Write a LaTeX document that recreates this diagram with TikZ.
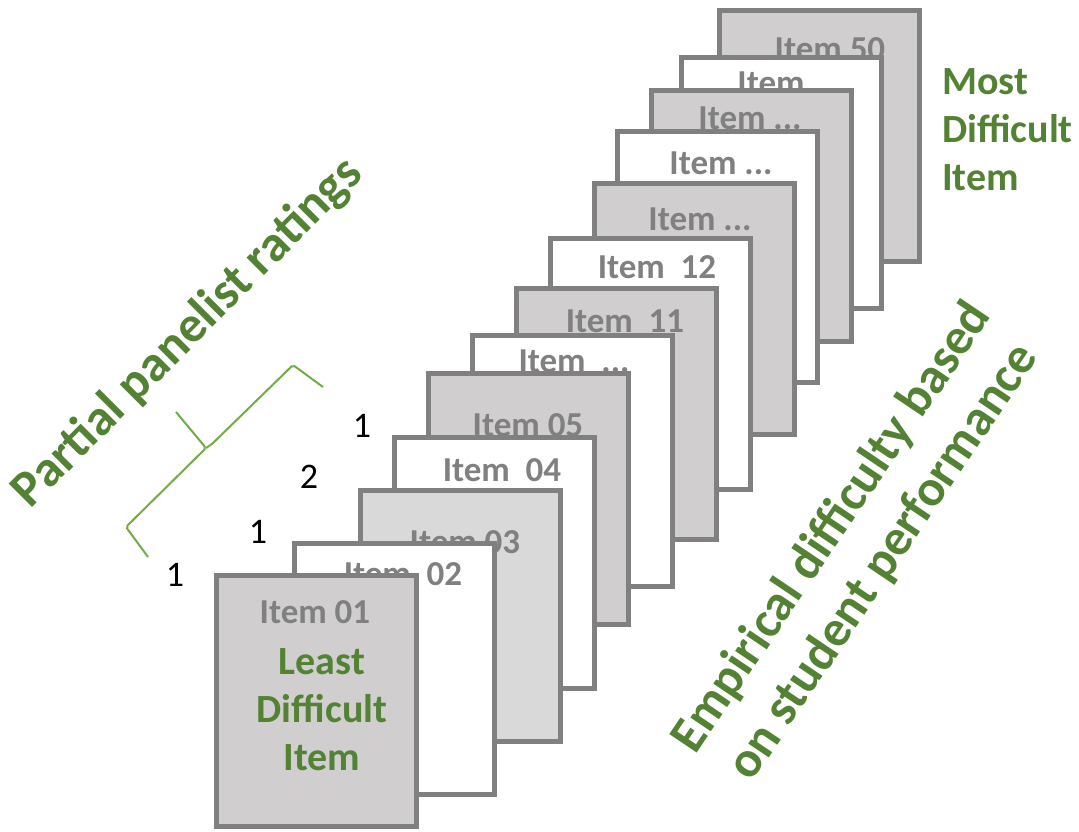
\documentclass[tikz,border=0pt]{standalone}
\usepackage{fontspec}
\setmainfont{Carlito}
\usetikzlibrary{calc}

\definecolor{cardline}{RGB}{128,128,128}
\definecolor{cardfill}{RGB}{208,206,206}
\definecolor{cardlight}{RGB}{217,217,217}
\definecolor{titlegreen}{RGB}{84,130,53}
\definecolor{bracegreen}{RGB}{112,173,71}

\begin{document}
\begin{tikzpicture}[
x=1pt, y=-1pt,
card/.style={draw=cardline, line width=5pt, anchor=north west, inner sep=0pt, outer sep=0pt, minimum width=200pt, minimum height=251pt},
greycard/.style={card, fill=cardfill},
whitecard/.style={card, fill=white},
itemfont/.style={anchor=north, inner sep=0pt, text=cardline, font=\fontsize{35}{40}\selectfont\bfseries},
greenfont/.style={inner sep=0pt, text=titlegreen, font=\fontsize{40}{48}\selectfont\bfseries},
bigfont/.style={inner sep=0pt, text=titlegreen, font=\fontsize{51}{62}\selectfont\bfseries, align=center},
rating/.style={inner sep=0pt, font=\fontsize{36}{40}\selectfont},
brace/.style={draw=bracegreen, line width=2pt, rounded corners=2pt}
]

\useasboundingbox (0,0) rectangle (1079,831);

%%%% CARDS (back to front)

\node[greycard] (c50) at (719,10) {};
\path (c50.north west)++(111,27) node[itemfont]{Item 50};

\node[whitecard] (c49) at (681,57) {};
\path (c49.north west)++(108,15) node[itemfont]{Item ...};

\node[greycard] (c48) at (651,90) {};
\path (c48.north west)++(99,17) node[itemfont]{Item ...};

\node[whitecard] (c47) at (617,131) {};
\path (c47.north west)++(104,21) node[itemfont]{Item ...};

\node[greycard] (c46) at (594,183) {};
\path (c46.north west)++(106,25) node[itemfont]{Item ...};

\node[whitecard] (c12) at (550,238) {};
\path (c12.north west)++(107,17) node[itemfont]{Item~~12};

\node[greycard] (c11) at (516,288) {};
\path (c11.north west)++(109,22) node[itemfont]{Item~~11};

\node[whitecard] (c06) at (472,335) {};
\path (c06.north west)++(102,15) node[itemfont]{Item~~...};

\node[greycard] (c05) at (428,373) {};
\path (c05.north west)++(100,40) node[itemfont]{Item 05};

\node[whitecard] (c04) at (394,437) {};
\path (c04.north west)++(108,21) node[itemfont]{Item~~04};

\node[card, fill=cardlight] (c03) at (360,490) {};
\path (c03.north west)++(105,40) node[itemfont]{Item 03};

\node[whitecard] (c02) at (294,543) {};
\path (c02.north west)++(109,19) node[itemfont]{Item~~02};

\node[greycard] (c01) at (216,575) {};
\path (c01.north west)++(99,25) node[itemfont]{Item 01};
\path (c01.north west)++(106,73) node[greenfont, anchor=north, align=center](least){Least\\Difficult\\Item};

%%%% LABELS

\node[greenfont, anchor=north west, align=left] (most) at (942,68) {Most\\Difficult\\Item};

\node[rating] (r1) at (175,575) {1};
\node[rating] (r2) at (258,532) {1};
\node[rating] (r3) at (309,477) {2};
\node[rating] (r4) at (362,426) {1};

%% brace
\draw[brace] (148,557)--(126,527)--(206,448)--(176,412);
\draw[brace] (206,448)--(212,444)--(293,365)--(323,387);

\node[bigfont, rotate=45] (partial) at (188,333) {Partial panelist ratings};
\node[bigfont, rotate=56] (empirical) at (858,545) {Empirical difficulty based\\on student performance};

\end{tikzpicture}
\end{document}
